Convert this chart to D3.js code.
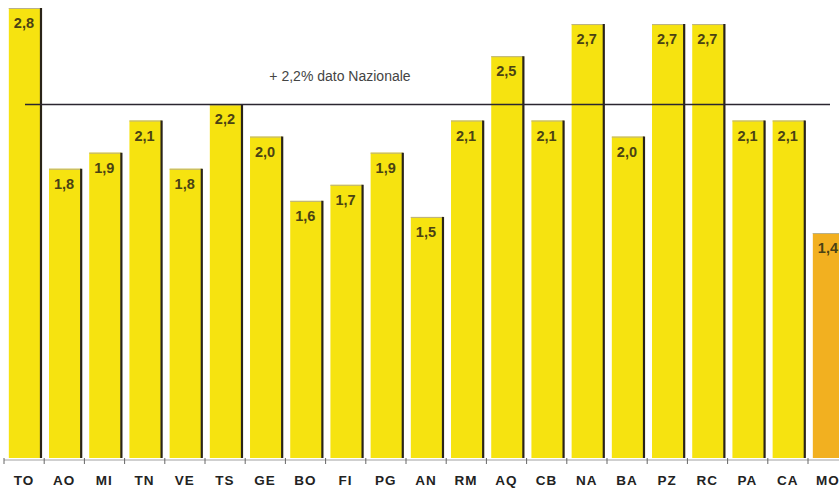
<!DOCTYPE html>
<html>
<head>
<meta charset="utf-8">
<script src="https://cdn.jsdelivr.net/npm/d3@7"></script>
<style>
  body { margin: 0; background: #fff; }
  text { font-family: "Liberation Sans", Arial, sans-serif; }
</style>
</head>
<body>
<div id="chart"></div>
<script>
var width = 839,
    height = 493

var categories = ['TO', 'AO', 'MI', 'TN', 'VE', 'TS', 'GE', 'BO', 'FI', 'PG', 'AN',
                  'RM', 'AQ', 'CB', 'NA', 'BA', 'PZ', 'RC', 'PA', 'CA', 'MO']
var values = [2.8, 1.8, 1.9, 2.1, 1.8, 2.2, 2.0, 1.6, 1.7, 1.9, 1.5,
              2.1, 2.5, 2.1, 2.7, 2.0, 2.7, 2.7, 2.1, 2.1, 1.4]
var highlight = ['MO']
var nationalValue = 2.2
var nationalLabel = '+ 2,2% dato Nazionale'

var fmt = function(v) { return d3.format('.1f')(v).replace('.', ',') }

var x = d3.scaleBand()
    .domain(categories)
    .range([4, 4 + 40.2 * categories.length])
    .paddingInner(0.2)
    .paddingOuter(0.1)
    .align(0.6)

var y = d3.scaleLinear()
    .domain([0, 2.8])
    .range([458, 8])

var svg = d3.select('#chart').append('svg')
    .attr('width', width)
    .attr('height', height)

// baseline with ticks between the bars
var step = x.step()
svg.append('line')
    .attr('x1', 4).attr('x2', width)
    .attr('y1', 460).attr('y2', 460)
    .attr('stroke', '#888').attr('stroke-width', 0.8)
svg.selectAll('line.tick')
    .data(d3.range(categories.length + 1))
    .enter().append('line')
        .attr('class', 'tick')
        .attr('x1', function(i) { return 4 + i * step })
        .attr('x2', function(i) { return 4 + i * step })
        .attr('y1', 458).attr('y2', 464)
        .attr('stroke', '#666').attr('stroke-width', 1)

var bars = svg.selectAll('g.bar')
    .data(categories)
    .enter().append('g')
        .attr('class', 'bar')

bars.append('rect')
    .attr('x', function(d) { return x(d) })
    .attr('y', function(d, i) { return y(values[i]) })
    .attr('width', x.bandwidth())
    .attr('height', function(d, i) { return y(0) - y(values[i]) })
    .attr('fill', function(d) { return highlight.indexOf(d) >= 0 ? '#f2b020' : '#f6e310' })

// top edge
bars.append('line')
    .attr('x1', function(d) { return x(d) })
    .attr('x2', function(d) { return x(d) + x.bandwidth() })
    .attr('y1', function(d, i) { return y(values[i]) + 0.5 })
    .attr('y2', function(d, i) { return y(values[i]) + 0.5 })
    .attr('stroke', '#b8b08a').attr('stroke-width', 1)

// dark right edge
bars.filter(function(d) { return highlight.indexOf(d) < 0 })
    .append('line')
    .attr('x1', function(d) { return x(d) + x.bandwidth() })
    .attr('x2', function(d) { return x(d) + x.bandwidth() })
    .attr('y1', function(d, i) { return y(values[categories.indexOf(d)]) })
    .attr('y2', y(0))
    .attr('stroke', '#2a2418').attr('stroke-width', 2.2)

bars.append('text')
    .attr('x', function(d) { return x(d) + x.bandwidth() / 2 - 1 })
    .attr('y', function(d, i) { return y(values[i]) + 20 })
    .attr('text-anchor', 'middle')
    .attr('font-size', 14.5)
    .attr('font-weight', 'bold')
    .attr('fill', '#4a4214')
    .text(function(d, i) { return fmt(values[i]) })

// category labels
svg.selectAll('text.cat')
    .data(categories)
    .enter().append('text')
        .attr('class', 'cat')
        .attr('x', function(d) { return x(d) + x.bandwidth() / 2 - 1 })
        .attr('y', 485)
        .attr('text-anchor', 'middle')
        .attr('font-size', 13.5)
        .attr('font-weight', 'bold')
        .attr('letter-spacing', 1)
        .attr('fill', '#222')
        .text(function(d) { return d })

// national reference line
svg.append('line')
    .attr('x1', 25).attr('x2', 830)
    .attr('y1', y(nationalValue)).attr('y2', y(nationalValue))
    .attr('stroke', '#2b2630').attr('stroke-width', 1.6)

svg.append('text')
    .attr('x', 340)
    .attr('y', 81)
    .attr('text-anchor', 'middle')
    .attr('font-size', 14)
    .attr('fill', '#444')
    .text(nationalLabel)
</script>
</body>
</html>
